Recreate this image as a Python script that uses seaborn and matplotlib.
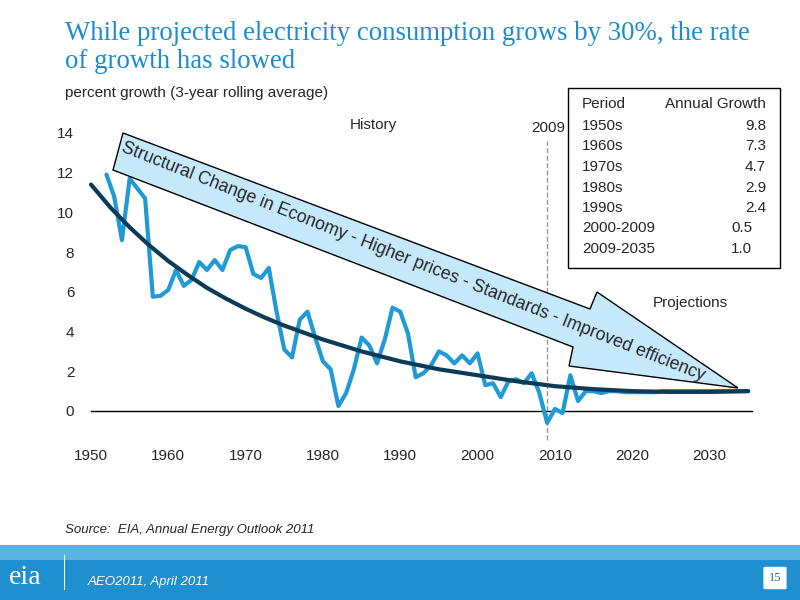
import matplotlib
matplotlib.use("Agg")
import matplotlib.pyplot as plt
import seaborn as sns
import pandas as pd
from matplotlib.patches import Polygon, Rectangle, FancyBboxPatch

sns.set_theme(style="white")
plt.rcParams['font.family'] = ['Liberation Sans', 'DejaVu Sans']

years = list(range(1952, 2036))
growth = [11.9, 10.8, 8.6, 11.7, 11.2, 10.7, 5.75, 5.8, 6.1, 7.1, 6.3, 6.6, 7.5, 7.1, 7.6, 7.1,
          8.1, 8.3, 8.25, 6.9, 6.7, 7.2, 5.0, 3.1, 2.7, 4.6, 5.0, 3.7, 2.5, 2.1, 0.25, 0.9,
          2.1, 3.7, 3.3, 2.4, 3.6, 5.2, 5.0, 3.9, 1.7, 1.9, 2.3, 3.0, 2.8, 2.4, 2.8, 2.4,
          2.9, 1.3, 1.4, 0.7, 1.5, 1.6, 1.4, 1.9, 0.9, -0.6, 0.1, -0.1, 1.8, 0.5, 1.0, 1.0,
          0.9, 1.0, 1.0, 0.95, 0.95, 0.95, 0.95, 0.95, 1.0, 1.0, 1.0, 1.0, 1.0, 1.0, 1.0, 1.0,
          1.0, 1.0, 1.0, 1.0]
trend_years = [1950, 1952.5, 1955, 1957.5, 1960, 1962.5, 1965, 1967.5, 1970, 1972.5, 1975, 1977.5,
               1980, 1985, 1990, 1995, 2000, 2005, 2010, 2015, 2020, 2025, 2030, 2035]
trend = [11.4, 10.25, 9.25, 8.35, 7.55, 6.85, 6.2, 5.65, 5.15, 4.7, 4.3, 3.95,
         3.6, 3.0, 2.5, 2.1, 1.8, 1.5, 1.25, 1.1, 1.0, 0.96, 0.96, 1.0]
periods = ["1950s", "1960s", "1970s", "1980s", "1990s", "2000-2009", "2009-2035"]
period_growth = ["9.8", "7.3", "4.7", "2.9", "2.4", "0.5", "1.0"]
xticks = list(range(1950, 2040, 10))

W, H = 800, 600
fig = plt.figure(figsize=(8, 6), dpi=100)
def fx(x): return x / W
def fy(y): return 1 - y / H

ax = fig.add_axes([fx(91), fy(411), fx(752) - fx(91), fy(121) - fy(411)])
df = pd.DataFrame({"year": years, "growth": growth})
tdf = pd.DataFrame({"year": trend_years, "trend": trend})
sns.lineplot(data=df, x="year", y="growth", ax=ax, color="#1f9ad6", lw=3, clip_on=False, zorder=3)
sns.lineplot(data=tdf, x="year", y="trend", ax=ax, color="#0c3a57", lw=3, clip_on=False, zorder=4)
ax.set_xlim(1950, 2035.5)
ax.set_ylim(0, 14.6)
for s in ["top", "right", "left"]:
    ax.spines[s].set_visible(False)
ax.spines["bottom"].set_color("black")
ax.spines["bottom"].set_linewidth(1)
ax.set_xticks(xticks)
ax.set_yticks(range(0, 16, 2))
ax.tick_params(axis="x", direction="out", length=5, width=1, color="black", pad=22, labelsize=11)
ax.tick_params(axis="y", length=0, pad=12, labelsize=11)
ax.set_xlabel("")
ax.set_ylabel("")
ax.axvline(2009, ymin=-0.1, ymax=0.93, color="#999999", lw=1, ls="--", zorder=1, clip_on=False)
ax.grid(False)

# Arrow
pts = [(123, 133), (590, 309), (597, 292), (738, 388), (569, 366), (573, 347), (113, 170)]
fig.patches.append(Polygon([(fx(x), fy(y)) for x, y in pts], closed=True, transform=fig.transFigure,
                           facecolor="#c5e9fb", edgecolor="black", lw=1, zorder=5))
fig.text(fx(413), fy(262), "Structural Change in Economy - Higher prices - Standards - Improved efficiency",
         rotation=-21.5, rotation_mode="anchor", ha="center", va="center", fontsize=12.8, zorder=6)

# Labels
fig.text(fx(373), fy(125), "History", ha="center", va="center", fontsize=11)
fig.text(fx(548), fy(128), "2009", ha="center", va="center", fontsize=11)
fig.text(fx(690), fy(303), "Projections", ha="center", va="center", fontsize=11)
fig.text(fx(65), fy(93), "percent growth (3-year rolling average)", ha="left", va="center", fontsize=11)

# Table
fig.patches.append(Rectangle((fx(568), fy(268)), fx(780) - fx(568), fy(88) - fy(268),
                             transform=fig.transFigure, facecolor="white", edgecolor="black", lw=1, zorder=5))
fig.text(fx(582), fy(104), "Period", ha="left", va="center", fontsize=11, zorder=6)
fig.text(fx(766), fy(104), "Annual Growth", ha="right", va="center", fontsize=11, zorder=6)
for i, (p, g) in enumerate(zip(periods, period_growth)):
    y = 126 + i * 20.5
    fig.text(fx(582), fy(y), p, ha="left", va="center", fontsize=11, zorder=6)
    fig.text(fx(766 if i < 5 else 752), fy(y), g, ha="right", va="center", fontsize=11, zorder=6)

# Title
fig.text(fx(65), fy(33), "While projected electricity consumption grows by 30%, the rate",
         ha="left", va="center", fontsize=19.3, color="#1a8ccf", family="Liberation Serif")
fig.text(fx(65), fy(62), "of growth has slowed",
         ha="left", va="center", fontsize=19.3, color="#1a8ccf", family="Liberation Serif")
fig.text(fx(65), fy(530), "Source:  EIA, Annual Energy Outlook 2011", ha="left", va="center",
         fontsize=9.5, style="italic")

# Bottom band
fig.patches.append(Rectangle((0, 0), 1, fy(545), transform=fig.transFigure,
                             facecolor="#1f8fd0", edgecolor="none", zorder=1))
fig.patches.append(Rectangle((0, fy(560)), 1, fy(545) - fy(560), transform=fig.transFigure,
                             facecolor="#5ab3e3", edgecolor="none", zorder=1))
fig.text(fx(88), fy(582), "AEO2011, April 2011", ha="left", va="center", fontsize=9.5,
         style="italic", color="white")
fig.text(fx(25), fy(578), "eia", ha="center", va="center", fontsize=20, color="white",
         family="Liberation Serif")
fig.patches.append(Rectangle((fx(64), fy(590)), fx(65) - fx(64), fy(555) - fy(590),
                             transform=fig.transFigure, facecolor="white", edgecolor="none", zorder=2))
fig.patches.append(FancyBboxPatch((fx(765), fy(588)), fx(20), fy(568) - fy(588),
                                  boxstyle="round,pad=0.002", transform=fig.transFigure,
                                  facecolor="white", edgecolor="none", zorder=2))
fig.text(fx(775), fy(578), "15", ha="center", va="center", fontsize=9, color="#1a6fa8",
         family="Liberation Serif", zorder=3)

fig.savefig("out.png", dpi=100)
